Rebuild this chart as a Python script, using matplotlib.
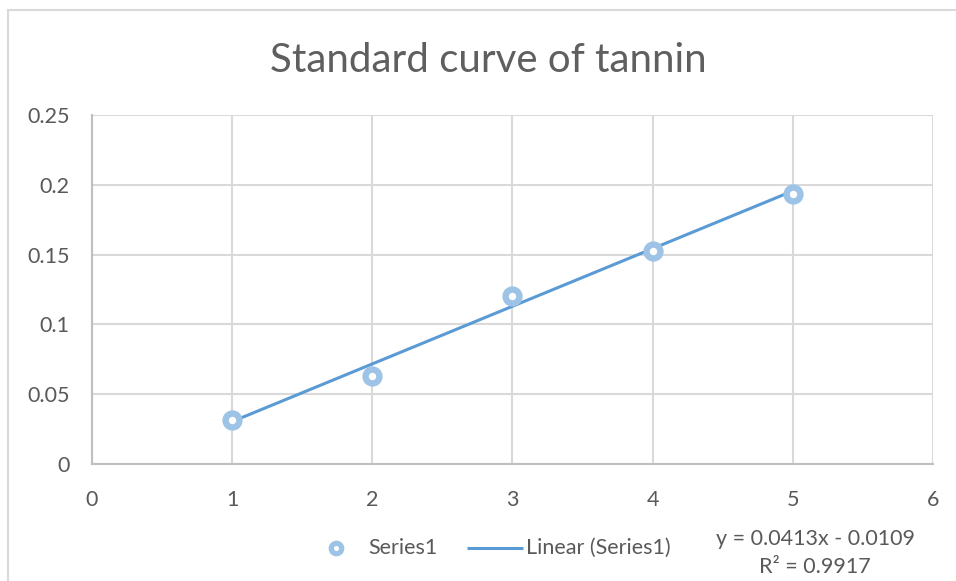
import numpy as np
import matplotlib
matplotlib.use("Agg")
import matplotlib.pyplot as plt
from matplotlib.lines import Line2D
from matplotlib.patches import Rectangle

# Tannin standard: concentration vs absorbance
conc = [1, 2, 3, 4, 5]
absorbance = [0.0315, 0.063, 0.1205, 0.1527, 0.1935]
slope, intercept, r2 = 0.0413, -0.0109, 0.9917
x_ticks = [0, 1, 2, 3, 4, 5, 6]
y_ticks = [0, 0.05, 0.1, 0.15, 0.2, 0.25]
y_tick_labels = ["0", "0.05", "0.1", "0.15", "0.2", "0.25"]

plt.rcParams["font.family"] = ["Lato", "DejaVu Sans"]
TXT = "#595959"
GRID = "#d9d9d9"
MARK = "#9dc3e6"
LINE = "#5b9bd5"
FS = 15.5

W, H = 956, 581
fig = plt.figure(figsize=(W / 100, H / 100), dpi=100)
fig.patch.set_facecolor("white")


def fx(px):
    return px / W


def fy(py):
    return 1 - py / H


# outer chart frame
fig.patches.append(Rectangle((fx(8), -0.1), 1.2, fy(10) + 0.1,
                             transform=fig.transFigure, fill=False,
                             edgecolor="#d9d9d9", lw=1.5, zorder=0))

ax = fig.add_axes([fx(92), fy(464), fx(933 - 92), (464 - 115) / H])
ax.set_xlim(0, 6)
ax.set_ylim(0, 0.25)
ax.set_xticks(x_ticks)
ax.set_yticks(y_ticks)
ax.set_yticklabels(y_tick_labels)
ax.grid(True, color=GRID, lw=1.5)
ax.set_axisbelow(True)
for s in ["top", "right"]:
    ax.spines[s].set_visible(False)
for s in ["left", "bottom"]:
    ax.spines[s].set_color("#bfbfbf")
    ax.spines[s].set_linewidth(1.5)
ax.tick_params(length=0, labelsize=FS, colors=TXT)
ax.tick_params(axis="y", pad=16)
ax.tick_params(axis="x", pad=19)

xs = np.array([conc[0], conc[-1]])
ax.plot(xs, slope * xs + intercept, color=LINE, lw=2.2, zorder=3,
        solid_capstyle="butt")
ax.plot(conc, absorbance, ls="none", marker="o", markersize=10,
        markerfacecolor="white", markeredgecolor=MARK, markeredgewidth=4.6,
        zorder=4)

fig.text(fx(488), fy(61), "Standard curve of tannin", ha="center",
         va="center", fontsize=29, color="#5f5f5f")

# legend entries
fig.add_artist(Line2D([fx(336)], [fy(548)], ls="none", marker="o",
                      markersize=7.5, markerfacecolor="white",
                      markeredgecolor=MARK, markeredgewidth=3.8,
                      transform=fig.transFigure))
fig.text(fx(368), fy(548), "Series1", ha="left", va="center",
         fontsize=FS, color=TXT)
fig.add_artist(Line2D([fx(467), fx(523)], [fy(548), fy(548)], color=LINE,
                      lw=2.2, solid_capstyle="butt",
                      transform=fig.transFigure))
fig.text(fx(526), fy(548), "Linear (Series1)", ha="left", va="center",
         fontsize=FS, color=TXT)

fig.text(fx(815), fy(553),
         f"y = {slope}x - {abs(intercept)}\nR² = {r2}", ha="center",
         va="center", fontsize=FS, color=TXT, linespacing=1.45)

fig.savefig("out.png", dpi=100)
